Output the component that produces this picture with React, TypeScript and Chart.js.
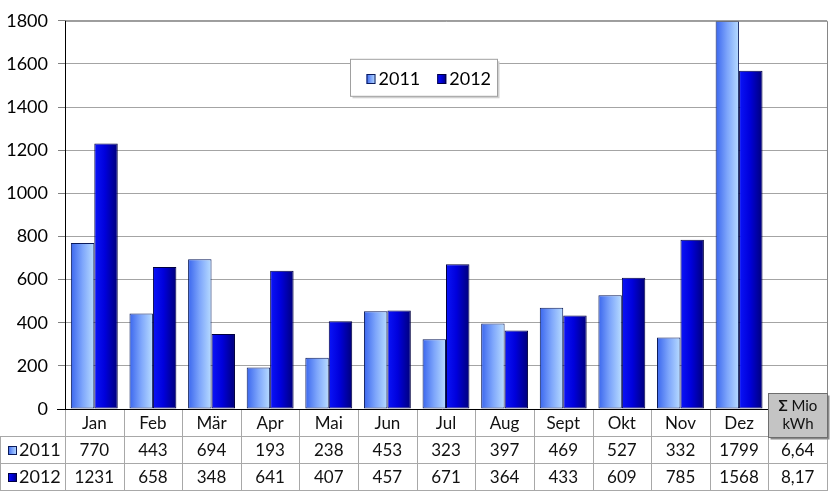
import React, { useEffect, useRef } from 'react';
import { Chart, registerables } from 'chart.js';

Chart.register(...registerables);

const categories = ['Jan', 'Feb', 'Mär', 'Apr', 'Mai', 'Jun', 'Jul', 'Aug', 'Sept', 'Okt', 'Nov', 'Dez'];
const sumLabelLines = ['Mio', 'kWh'];
const sumSymbol = 'Σ';
const seriesNames = ['2011', '2012'];
const values2011 = [770, 443, 694, 193, 238, 453, 323, 397, 469, 527, 332, 1799];
const values2012 = [1231, 658, 348, 641, 407, 457, 671, 364, 433, 609, 785, 1568];
const totals = [6.64, 8.17];
const yMin = 0;
const yMax = 1800;
const yStep = 200;

const FONT = 'Lato, "Open Sans", sans-serif';

const gradStops: [number, string][][] = [
  [
    [0, '#3a66ee'],
    [0.5, '#7ea6fb'],
    [1, '#b8dcff'],
  ],
  [
    [0, '#0a14f8'],
    [0.45, '#0000dc'],
    [1, '#00007a'],
  ],
];
const borderColors = ['#0a1a5a', '#000040'];

function makeGrad(ctx: CanvasRenderingContext2D, x0: number, x1: number, di: number) {
  const g = ctx.createLinearGradient(x0, 0, x1, 0);
  gradStops[di].forEach(([o, c]) => g.addColorStop(o, c));
  return g;
}

const gradientPlugin = {
  id: 'barGradient',
  beforeDatasetsDraw(chart: any) {
    const ctx = chart.ctx;
    chart.data.datasets.forEach((_ds: any, di: number) => {
      const meta = chart.getDatasetMeta(di);
      meta.data.forEach((el: any) => {
        const { x, width } = el.getProps(['x', 'width'], true);
        const g = makeGrad(ctx, x - width / 2, x + width / 2, di);
        el.options = { ...el.options, backgroundColor: g };
      });
    });
  },
};

const fmt = (v: number, isSum: boolean) => (isSum ? v.toFixed(2).replace('.', ',') : String(v));

const tablePlugin = {
  id: 'dataTable',
  afterDraw(chart: any) {
    const ctx: CanvasRenderingContext2D = chart.ctx;
    const a = chart.chartArea;
    const xs = chart.scales.x;
    const n = chart.data.labels.length;
    const cw = (a.right - a.left) / n;
    const rh = 27;
    const y0 = a.bottom;
    ctx.save();

    // plot border (top/right)
    ctx.lineWidth = 1;
    ctx.strokeStyle = '#868686';
    ctx.beginPath();
    ctx.moveTo(a.left, a.top + 0.5);
    ctx.lineTo(a.right + 0.5, a.top + 0.5);
    ctx.lineTo(a.right + 0.5, a.bottom);
    ctx.stroke();

    // table grid
    ctx.strokeStyle = '#a8a8a8';
    ctx.beginPath();
    for (let k = 1; k <= 3; k++) {
      const y = Math.round(y0 + rh * k) + 0.5;
      ctx.moveTo(0, y);
      ctx.lineTo(a.right + 1, y);
    }
    for (let i = 0; i <= n; i++) {
      const x = Math.round(a.left + cw * i) + 0.5;
      ctx.moveTo(x, y0);
      ctx.lineTo(x, y0 + rh * 3);
    }
    ctx.moveTo(0.5, y0 + rh);
    ctx.lineTo(0.5, y0 + rh * 3);
    ctx.stroke();

    // axes
    ctx.strokeStyle = '#000';
    ctx.beginPath();
    ctx.moveTo(a.left + 0.5, a.top);
    ctx.lineTo(a.left + 0.5, a.bottom + 1);
    ctx.moveTo(a.left - 8, a.bottom + 0.5);
    ctx.lineTo(a.right + 1, a.bottom + 0.5);
    ctx.stroke();

    // header texts
    ctx.fillStyle = '#111';
    ctx.font = `17px ${FONT}`;
    ctx.textAlign = 'center';
    ctx.textBaseline = 'middle';
    categories.forEach((c, i) => {
      ctx.fillText(c, xs.getPixelForValue(i), y0 + rh * 0.5 + 1);
    });

    // value rows
    chart.data.datasets.forEach((ds: any, di: number) => {
      const yc = y0 + rh * (di + 1.5) + 1;
      ctx.font = `17px ${FONT}`;
      ds.data.forEach((v: number, i: number) => {
        ctx.fillStyle = '#111';
        ctx.fillText(fmt(v, i === n - 1), xs.getPixelForValue(i), yc);
      });
      // legend key
      const sx = 8;
      const sy = Math.round(yc - 5);
      ctx.fillStyle = makeGrad(ctx, sx, sx + 9, di);
      ctx.fillRect(sx, sy, 9, 9);
      ctx.strokeStyle = borderColors[di];
      ctx.strokeRect(sx + 0.5, sy + 0.5, 8, 8);
      ctx.fillStyle = '#111';
      ctx.textAlign = 'left';
      ctx.font = `18px ${FONT}`;
      ctx.fillText(ds.label, 19, yc);
      ctx.textAlign = 'center';
    });

    // sum box
    const bx = Math.round(a.left + cw * (n - 1)) + 0.5;
    const by = a.bottom - 16 + 0.5;
    const bw = Math.round(a.right - bx);
    const bh = 44;
    ctx.fillStyle = '#8a8a8a';
    ctx.fillRect(bx + 2, by + 2, bw, bh);
    ctx.fillStyle = '#c4c4c4';
    ctx.fillRect(bx, by, bw, bh);
    ctx.strokeStyle = '#6e6e6e';
    ctx.strokeRect(bx, by, bw, bh);
    const cx = bx + bw / 2;
    ctx.fillStyle = '#111';
    ctx.font = `bold 15px ${FONT}`;
    const sW = ctx.measureText(sumSymbol + ' ').width;
    ctx.font = `15px ${FONT}`;
    const mW = ctx.measureText(sumLabelLines[0]).width;
    const tx = cx - (sW + mW) / 2;
    ctx.textAlign = 'left';
    ctx.font = `bold 15px ${FONT}`;
    ctx.fillText(sumSymbol, tx, by + 13);
    ctx.font = `15px ${FONT}`;
    ctx.fillText(sumLabelLines[0], tx + sW, by + 13);
    ctx.textAlign = 'center';
    ctx.fillText(sumLabelLines[1], cx, by + 31);

    // legend box
    const lx = a.left + 285.5;
    const ly = a.top + 38.5;
    const lw = 147;
    const lh = 37;
    ctx.fillStyle = '#d0d0d0';
    ctx.fillRect(lx + 2, ly + 2, lw, lh);
    ctx.fillStyle = '#fff';
    ctx.fillRect(lx, ly, lw, lh);
    ctx.strokeStyle = '#a0a0a0';
    ctx.strokeRect(lx, ly, lw, lh);
    ctx.font = `18px ${FONT}`;
    ctx.textAlign = 'left';
    let ix = lx + 16;
    const iy = ly + lh / 2 + 1;
    chart.data.datasets.forEach((ds: any, di: number) => {
      const sy = Math.round(iy - 5);
      ctx.fillStyle = makeGrad(ctx, ix, ix + 9, di);
      ctx.fillRect(ix, sy, 9, 10);
      ctx.strokeStyle = borderColors[di];
      ctx.strokeRect(ix + 0.5, sy + 0.5, 8, 9);
      ctx.fillStyle = '#000';
      ctx.fillText(ds.label, ix + 12, iy);
      ix += 12 + ctx.measureText(ds.label).width + 17;
    });

    ctx.restore();
  },
};

export default function App() {
  const ref = useRef<HTMLCanvasElement>(null);
  useEffect(() => {
    const canvas = ref.current!;
    const labels = [...categories, sumSymbol + ' ' + sumLabelLines.join(' ')];
    const chart = new Chart(canvas, {
      type: 'bar',
      data: {
        labels,
        datasets: [
          {
            label: seriesNames[0],
            data: [...values2011, totals[0]],
            backgroundColor: '#7ea6fb',
            borderColor: borderColors[0],
            borderWidth: 1,
            borderSkipped: false,
            categoryPercentage: 0.8,
            barPercentage: 1,
          },
          {
            label: seriesNames[1],
            data: [...values2012, totals[1]],
            backgroundColor: '#0000dc',
            borderColor: borderColors[1],
            borderWidth: 1,
            borderSkipped: false,
            categoryPercentage: 0.8,
            barPercentage: 1,
          },
        ],
      },
      options: {
        animation: false,
        responsive: false,
        devicePixelRatio: 1,
        layout: { padding: { left: 0, right: 4, top: 15, bottom: 84 } },
        plugins: { legend: { display: false }, tooltip: { enabled: false } },
        scales: {
          x: { display: false, offset: true },
          y: {
            min: yMin,
            max: yMax,
            ticks: {
              stepSize: yStep,
              font: { family: FONT, size: 18 },
              color: '#000',
              padding: 10,
              callback: (v: any) => String(v),
            },
            grid: { color: '#a4a4a4', tickColor: '#808080', tickLength: 7, lineWidth: 1 },
            border: { display: false },
            afterFit: (s: any) => {
              s.width = 65;
            },
          },
        },
      },
      plugins: [gradientPlugin, tablePlugin],
    } as any);
    return () => chart.destroy();
  }, []);
  return (
    <div style={{ position: 'absolute', left: 0, top: 0, width: 831, height: 493, background: '#fff' }}>
      <canvas ref={ref} width={831} height={493} style={{ display: 'block', width: 831, height: 493 }} />
    </div>
  );
}
